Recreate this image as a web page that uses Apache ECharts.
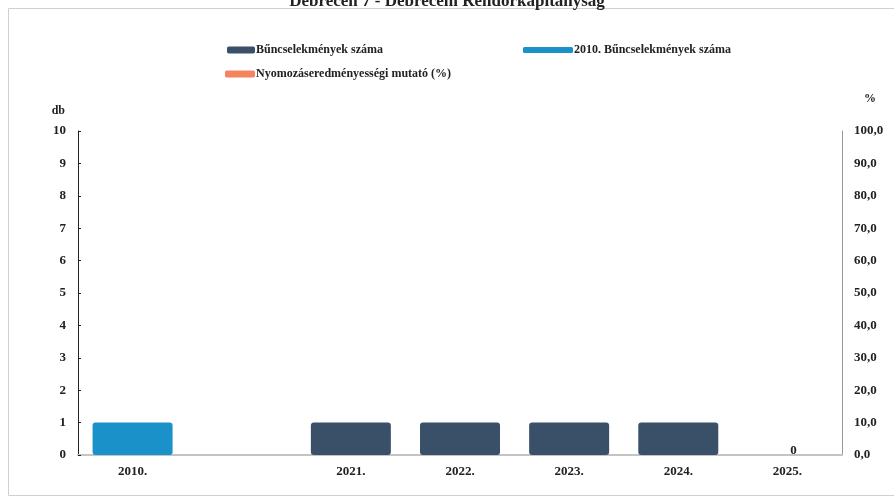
<!DOCTYPE html>
<html><head><meta charset="utf-8">
<script src="https://cdn.jsdelivr.net/npm/echarts@6/dist/echarts.min.js"></script>
<style>html,body{margin:0;padding:0;background:#fff}#c{width:894px;height:502px}</style>
</head><body><div id="c"></div>
<script>
const categories = ['2010.', '', '2021.', '2022.', '2023.', '2024.', '2025.'];
const crimes = [null, null, 1, 1, 1, 1, 0];
const crimes2010 = [1, null, null, null, null, null, null];
const clearance = [null, null, null, null, null, null, null];
const leftTicks = [0, 10, 1];
const rightTicks = [0, 100, 10];

const F = '"Liberation Serif", "DejaVu Serif", serif';
const chart = echarts.init(document.getElementById('c'));
chart.setOption({
  animation: false,
  backgroundColor: '#fff',
  textStyle: { fontFamily: F },
  title: {
    text: 'Debrecen 7 - Debreceni Rendőrkapitányság',
    left: 'center', top: -12,
    textStyle: { fontFamily: F, fontSize: 17, fontWeight: 'bold', color: '#222' }
  },
  graphic: [{
    type: 'rect', shape: { x: 8.5, y: 8.5, width: 900, height: 487 },
    style: { fill: 'none', stroke: '#d0d0d0', lineWidth: 1 }, silent: true
  }],
  legend: [
    { left: 222, top: 39, itemWidth: 28, itemHeight: 7, itemGap: 2, data: ['Bűncselekmények száma'],
      textStyle: { fontFamily: F, fontSize: 12, fontWeight: 'bold', color: '#222', padding: [0,0,0,-4] } },
    { left: 518, top: 39, itemWidth: 50, itemHeight: 6, data: ['2010. Bűncselekmények száma'],
      textStyle: { fontFamily: F, fontSize: 12, fontWeight: 'bold', color: '#222', padding: [0,0,0,-4] } },
    { left: 220, top: 63, itemWidth: 30, itemHeight: 7, data: [{ name: 'Nyomozáseredményességi mutató (%)', icon: 'roundRect' }],
      textStyle: { fontFamily: F, fontSize: 12, fontWeight: 'bold', color: '#222', padding: [0,0,0,-4] } }
  ],
  grid: { left: 78, right: 52, top: 131, bottom: 47 },
  xAxis: {
    type: 'category', data: categories,
    axisLine: { lineStyle: { color: '#c4c4c4', width: 2 } },
    axisTick: { show: false },
    axisLabel: { fontFamily: F, fontSize: 13, fontWeight: 'bold', color: '#222', margin: 10 }
  },
  yAxis: [
    { type: 'value', min: leftTicks[0], max: leftTicks[1], interval: leftTicks[2],
      name: 'db', nameLocation: 'end', nameGap: 14,
      nameTextStyle: { fontFamily: F, fontSize: 12, fontWeight: 'bold', color: '#222', align: 'right', padding: [0, 13, 0, 0] },
      axisLine: { show: true, lineStyle: { color: '#222', width: 1 } },
      axisTick: { show: true, inside: true, length: 3, lineStyle: { color: '#222' } },
      splitLine: { show: false },
      axisLabel: { fontFamily: F, fontSize: 13, fontWeight: 'bold', color: '#222', margin: 12 } },
    { type: 'value', min: rightTicks[0], max: rightTicks[1], interval: rightTicks[2],
      name: '%', nameLocation: 'end', nameGap: 26,
      nameTextStyle: { fontFamily: F, fontSize: 12, fontWeight: 'bold', color: '#222', align: 'left', padding: [0, 0, 0, 22] },
      axisLine: { show: true, lineStyle: { color: '#999', width: 1 } },
      axisTick: { show: false },
      splitLine: { show: false },
      axisLabel: { fontFamily: F, fontSize: 13, fontWeight: 'bold', color: '#222', margin: 12,
        formatter: v => v.toFixed(1).replace('.', ',') } }
  ],
  series: [
    { name: 'Bűncselekmények száma', type: 'bar', data: crimes, barWidth: 80, barGap: '-100%',
      itemStyle: { color: '#3a5068', borderRadius: 3 },
      label: { show: true, position: 'top', distance: 2, offset: [6, 4], fontFamily: F, fontSize: 13, fontWeight: 'bold', color: '#222',
        formatter: p => (p.value === 0 ? '0' : '') } },
    { name: '2010. Bűncselekmények száma', type: 'bar', data: crimes2010, barWidth: 80, barGap: '-100%',
      itemStyle: { color: '#1a91c8', borderRadius: 3 } },
    { name: 'Nyomozáseredményességi mutató (%)', type: 'line', yAxisIndex: 1, data: clearance,
      itemStyle: { color: '#f4845f' }, lineStyle: { color: '#f4845f', width: 3 }, symbol: 'none' }
  ]
});
</script></body></html>
